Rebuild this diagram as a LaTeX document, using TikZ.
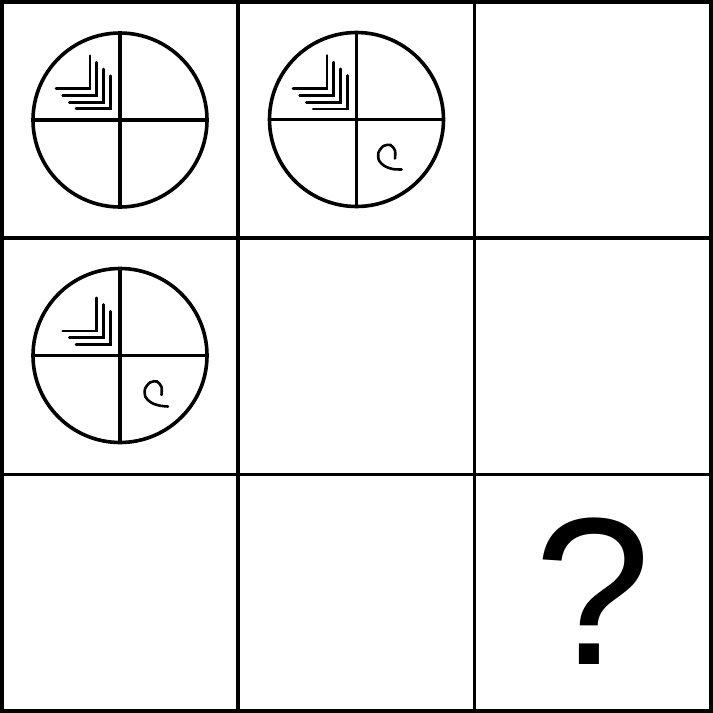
\documentclass[tikz,border=0pt]{standalone}
\usepackage{fontspec}
\newfontfamily\qfont{Liberation Sans}
\begin{document}
\begin{tikzpicture}[x=1pt,y=-1pt,
  gridline/.style={line width=3.6pt},
  disc/.style={circle, draw, line width=3.6pt, minimum size=174pt, inner sep=0pt},
  crossline/.style={line width=3.4pt},
  chev/.style={line width=2.8pt, line cap=round},
  curl/.style={line width=2.6pt, line cap=round}]
\useasboundingbox (0,0) rectangle (713,713);
% grid
\draw[gridline] (1.8,1.8) rectangle (711.2,711.2);
\draw[gridline] (238,1.8) -- (238,711.2);
\draw[gridline] (474.5,1.8) -- (474.5,711.2);
\draw[gridline] (1.8,238) -- (711.2,238);
\draw[gridline] (1.8,474.5) -- (711.2,474.5);
% discs
\node[disc] (c1) at (120,120) {};
\node[disc] (c2) at (356.5,119.5) {};
\node[disc] (c3) at (120,355.5) {};
\foreach \c in {c1,c2,c3} {
  \draw[crossline] (\c.north) -- (\c.south);
  \draw[crossline] (\c.west) -- (\c.east);
}
% chevrons
\begin{scope}[shift={(c1.center)}]
  \foreach \d in {0,...,3}
    \draw[chev] ({-30+6.7*\d},{-64.3+6.7*\d}) -- ({-30+6.7*\d},{-31.3+6.7*\d}) -- ({-64+6.7*\d},{-31.3+6.7*\d});
\end{scope}
\begin{scope}[shift={(c2.center)}]
  \foreach \d in {0,...,3}
    \draw[chev] ({-29.5+6.7*\d},{-64+6.7*\d}) -- ({-29.5+6.7*\d},{-30.7+6.7*\d}) -- ({-63.5+6.7*\d},{-30.7+6.7*\d});
  \draw[curl] plot[smooth] coordinates {(38.5,39) (38.5,31) (34,25.5) (27,26.5) (22,33) (22.5,41) (28,46.5) (36,49.5) (45,50)};
\end{scope}
\begin{scope}[shift={(c3.center)}]
  \foreach \d in {1,...,3}
    \draw[chev] ({-30+6.7*\d},{-64.3+6.7*\d}) -- ({-30+6.7*\d},{-31.3+6.7*\d}) -- ({-64+6.7*\d},{-31.3+6.7*\d});
  \draw[curl] plot[smooth] coordinates {(41.5,39.5) (41.5,31.5) (37,26) (30,27) (25,33.5) (25.5,41.5) (31,47) (39,50) (48,51)};
\end{scope}
% question mark
\node[font=\qfont\fontsize{210}{210}\selectfont, inner sep=0pt] (q) at (593,591.5) {?};
\end{tikzpicture}
\end{document}
